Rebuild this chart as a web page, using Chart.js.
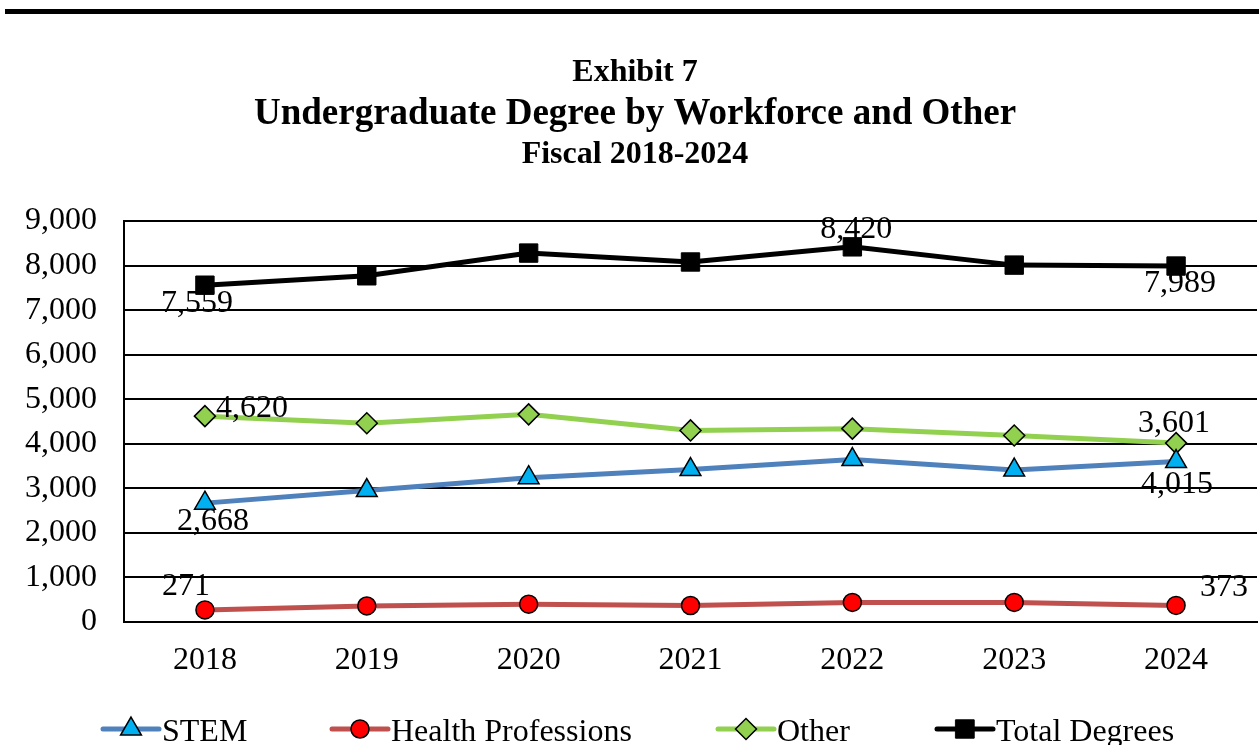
<!DOCTYPE html>
<html>
<head>
<meta charset="utf-8">
<script src="https://cdn.jsdelivr.net/npm/chart.js@4"></script>
<style>
  html, body { margin: 0; padding: 0; background: #fff; overflow: hidden; }
  canvas { display: block; }
</style>
</head>
<body>
<canvas id="lineChart" width="1271" height="745"></canvas>
<script>
const years = ['2018', '2019', '2020', '2021', '2022', '2023', '2024'];
const stem = [2668, 2950, 3240, 3420, 3645, 3410, 3601];
const health = [271, 360, 400, 370, 440, 440, 373];
const other = [4620, 4460, 4660, 4300, 4340, 4185, 4015];
const total = [7559, 7770, 8280, 8080, 8420, 8010, 7989];
const yTicks = [0, 1000, 2000, 3000, 4000, 5000, 6000, 7000, 8000, 9000];

const serif = '"Liberation Serif", "Times New Roman", serif';
const fmt = v => v.toLocaleString('en-US');

// titles + top rule
const titlePlugin = {
    id: 'titles',
    beforeDraw(chart) {
        const c = chart.ctx;
        c.save();
        c.fillStyle = '#000';
        c.fillRect(5, 9, 1266, 5);
        c.textAlign = 'center';
        c.textBaseline = 'alphabetic';
        c.font = 'bold 32px ' + serif;
        c.fillText('Exhibit 7', 635, 81);
        c.font = 'bold 37px ' + serif;
        c.fillText('Undergraduate Degree by Workforce and Other', 635, 124);
        c.font = 'bold 32px ' + serif;
        c.fillText('Fiscal 2018-2024', 635, 163);
        c.restore();
    }
};

// value labels: value from one series, drawn next to a point of (maybe) another series
const labelSpots = [
    { from: 3, i: 0, at: 3, dx: -8, dy: 18 },
    { from: 3, i: 4, at: 3, dx: 4, dy: -17 },
    { from: 3, i: 6, at: 3, dx: 4, dy: 18 },
    { from: 2, i: 0, at: 2, dx: 47, dy: -8 },
    { from: 0, i: 6, at: 2, dx: -2, dy: -20 },
    { from: 0, i: 0, at: 0, dx: 8, dy: 18 },
    { from: 2, i: 6, at: 0, dx: 1, dy: 23 },
    { from: 1, i: 0, at: 1, dx: -19, dy: -23 },
    { from: 1, i: 6, at: 1, dx: 48, dy: -18 }
];
const valueLabels = {
    id: 'valueLabels',
    afterDatasetsDraw(chart) {
        const c = chart.ctx;
        c.save();
        c.font = '32px ' + serif;
        c.fillStyle = '#000';
        c.textAlign = 'center';
        c.textBaseline = 'middle';
        labelSpots.forEach(s => {
            const pt = chart.getDatasetMeta(s.at).data[s.i];
            const v = chart.data.datasets[s.from].data[s.i];
            c.fillText(fmt(v), pt.x + s.dx, pt.y + s.dy);
        });
        c.restore();
    }
};

// legend: line with marker, like the spreadsheet one
const legendX = [103, 332, 718, 937];
const bottomLegend = {
    id: 'bottomLegend',
    afterDraw(chart) {
        const c = chart.ctx;
        const y = 729;
        c.save();
        chart.data.datasets.forEach((ds, k) => {
            const x0 = legendX[k];
            const len = 56;
            c.strokeStyle = ds.borderColor;
            c.lineWidth = ds.borderWidth;
            c.lineCap = 'round';
            c.beginPath();
            c.moveTo(x0, y);
            c.lineTo(x0 + len, y);
            c.stroke();
            c.fillStyle = ds.pointBackgroundColor;
            c.strokeStyle = ds.pointBorderColor;
            c.lineWidth = ds.pointBorderWidth;
            Chart.helpers.drawPoint(c, {
                pointStyle: ds.pointStyle,
                radius: ds.pointRadius,
                rotation: 0,
                borderWidth: ds.pointBorderWidth
            }, x0 + len / 2, y);
            c.fillStyle = '#000';
            c.font = '32px ' + serif;
            c.textAlign = 'left';
            c.textBaseline = 'alphabetic';
            c.fillText(ds.label, x0 + len + 3, 741);
        });
        c.restore();
    }
};

const ctx = document.getElementById('lineChart').getContext('2d');
new Chart(ctx, {
    type: 'line',
    data: {
        labels: years,
        datasets: [
            {
                label: 'STEM',
                data: stem,
                borderColor: '#4F81BD',
                borderWidth: 5,
                pointStyle: 'triangle',
                pointRadius: 12,
                pointBackgroundColor: '#00B0F0',
                pointBorderColor: '#000',
                pointBorderWidth: 1.5
            },
            {
                label: 'Health Professions',
                data: health,
                borderColor: '#C0504D',
                borderWidth: 5,
                pointStyle: 'circle',
                pointRadius: 9,
                pointBackgroundColor: '#FF0000',
                pointBorderColor: '#000',
                pointBorderWidth: 1.5
            },
            {
                label: 'Other',
                data: other,
                borderColor: '#92D050',
                borderWidth: 5,
                pointStyle: 'rectRot',
                pointRadius: 10.5,
                pointBackgroundColor: '#92D050',
                pointBorderColor: '#000',
                pointBorderWidth: 1.5
            },
            {
                label: 'Total Degrees',
                data: total,
                borderColor: '#000',
                borderWidth: 5,
                pointStyle: 'rect',
                pointRadius: 13,
                pointBackgroundColor: '#000',
                pointBorderColor: '#000',
                pointBorderWidth: 1
            }
        ]
    },
    options: {
        responsive: false,
        animation: false,
        layout: { padding: { top: 221, left: 0, right: 3, bottom: 0 } },
        plugins: {
            legend: { display: false },
            title: { display: false },
            tooltip: { enabled: false }
        },
        scales: {
            x: {
                offset: true,
                grid: { display: false, drawTicks: false },
                border: { display: true, color: '#000', width: 2 },
                ticks: { color: '#000', font: { family: serif, size: 32 }, padding: 19 },
                afterFit: s => { s.height = 123; }
            },
            y: {
                min: 0,
                max: 9000,
                afterBuildTicks: s => { s.ticks = yTicks.map(v => ({ value: v })); },
                grid: { color: '#000', lineWidth: 2, drawTicks: false },
                border: { display: true, color: '#000', width: 2 },
                ticks: {
                    color: '#000',
                    font: { family: serif, size: 32 },
                    padding: 27,
                    callback: v => fmt(v)
                },
                afterFit: s => { s.width = 124; }
            }
        }
    },
    plugins: [titlePlugin, valueLabels, bottomLegend]
});
</script>
</body>
</html>
